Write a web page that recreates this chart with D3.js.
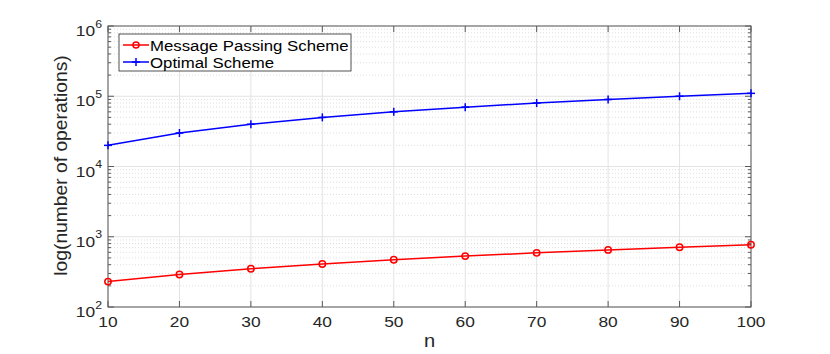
<!DOCTYPE html>
<html><head><meta charset="utf-8">
<script src="https://cdn.jsdelivr.net/npm/d3@7"></script>
<style>body{margin:0;background:#fff;} svg{display:block;font-family:"Liberation Sans",Arial,sans-serif;}</style>
</head><body><svg id="c" width="830" height="354"></svg>
<script>
const nValues = [10,20,30,40,50,60,70,80,90,100];
const messagePassing = [230,290,350,410,470,530,590,650,710,770];
const optimal = [20000,30000,40000,50000,60000,70000,80000,90000,100000,110000];
const xTicks = [10,20,30,40,50,60,70,80,90,100];
const yDecades = [2,3,4,5,6];
const seriesNames = ["Message Passing Scheme","Optimal Scheme"];

const svg = d3.select("#c");
const L=108, R=751, T=26, B=307;
const SX=1.12;
const x = d3.scaleLinear().domain([10,100]).range([L,R]);
const y = d3.scaleLog().domain([100,1e6]).range([B,T]);

// minor grid
const minors=[];
for(let d=2; d<6; d++) for(let k=2;k<=9;k++) minors.push(k*Math.pow(10,d));
const g = svg.append("g");
g.selectAll(".mg").data(minors).enter().append("line")
 .attr("x1",L).attr("x2",R).attr("y1",d=>y(d)).attr("y2",d=>y(d))
 .attr("stroke","#d6d6d6").attr("stroke-width",0.8).attr("stroke-dasharray","1,2");
g.selectAll(".gy").data(yDecades.map(d=>Math.pow(10,d))).enter().append("line")
 .attr("x1",L).attr("x2",R).attr("y1",d=>y(d)).attr("y2",d=>y(d))
 .attr("stroke","#e3e3e3").attr("stroke-width",1);
g.selectAll(".gx").data(xTicks).enter().append("line")
 .attr("x1",d=>x(d)).attr("x2",d=>x(d)).attr("y1",T).attr("y2",B)
 .attr("stroke","#e3e3e3").attr("stroke-width",1);

const ax="#5a5a5a";
svg.append("rect").attr("x",L).attr("y",T).attr("width",R-L).attr("height",B-T)
 .attr("fill","none").attr("stroke",ax).attr("stroke-width",1);
xTicks.forEach(t=>{
  svg.append("line").attr("x1",x(t)).attr("x2",x(t)).attr("y1",B).attr("y2",B-6).attr("stroke",ax);
  svg.append("line").attr("x1",x(t)).attr("x2",x(t)).attr("y1",T).attr("y2",T+6).attr("stroke",ax);
});
yDecades.forEach(d=>{
  const v=Math.pow(10,d);
  svg.append("line").attr("x1",L).attr("x2",L+6).attr("y1",y(v)).attr("y2",y(v)).attr("stroke",ax);
  svg.append("line").attr("x1",R).attr("x2",R-6).attr("y1",y(v)).attr("y2",y(v)).attr("stroke",ax);
});
minors.forEach(v=>{
  svg.append("line").attr("x1",L).attr("x2",L+3).attr("y1",y(v)).attr("y2",y(v)).attr("stroke",ax);
  svg.append("line").attr("x1",R).attr("x2",R-3).attr("y1",y(v)).attr("y2",y(v)).attr("stroke",ax);
});

const lblCol="#262626";
function stext(parent,px,py,anchor,size,col,rot){
  const gg=parent.append("g").attr("transform",`translate(${px},${py})${rot?` rotate(${rot})`:""} scale(${SX},1)`);
  return gg.append("text").attr("x",0).attr("y",0).attr("text-anchor",anchor).attr("font-size",size).attr("fill",col);
}
xTicks.forEach(d=>{ stext(svg,x(d),B+20,"middle",15.5,lblCol).text(d); });
yDecades.forEach(d=>{
  const t=stext(svg,102,y(Math.pow(10,d))+10,"end",15.5,lblCol);
  t.append("tspan").text("10");
  t.append("tspan").attr("dy",-8.5).attr("font-size",11).text(d);
});

stext(svg,(L+R)/2,347,"middle",18,lblCol).text("n");
const yl=svg.append("g").attr("transform",`translate(67,${(T+B)/2-1}) rotate(-90) scale(1.07,1)`);
yl.append("text").attr("text-anchor","middle").attr("font-size",18).attr("fill",lblCol).text("log(number of operations)");

const line = d3.line().x((d,i)=>x(nValues[i])).y(d=>y(d));
svg.append("path").datum(messagePassing).attr("d",line).attr("fill","none").attr("stroke","#ff0000").attr("stroke-width",1.5);
svg.append("path").datum(optimal).attr("d",line).attr("fill","none").attr("stroke","#0000ff").attr("stroke-width",1.5);
svg.selectAll(".mp").data(messagePassing).enter().append("circle")
 .attr("cx",(d,i)=>x(nValues[i])).attr("cy",d=>y(d)).attr("r",3.2)
 .attr("fill","none").attr("stroke","#ff0000").attr("stroke-width",1.5);
const plus = (sel,cx,cy,s)=>{
  sel.append("line").attr("x1",cx-s).attr("x2",cx+s).attr("y1",cy).attr("y2",cy).attr("stroke","#0000ff").attr("stroke-width",1.5);
  sel.append("line").attr("x1",cx).attr("x2",cx).attr("y1",cy-s).attr("y2",cy+s).attr("stroke","#0000ff").attr("stroke-width",1.5);
};
optimal.forEach((v,i)=>plus(svg,x(nValues[i]),y(v),4));

const lg = svg.append("g");
lg.append("rect").attr("x",119).attr("y",34).attr("width",232).attr("height",37)
 .attr("fill","#fff").attr("stroke","#262626").attr("stroke-width",0.8);
lg.append("line").attr("x1",123).attr("x2",149).attr("y1",45).attr("y2",45).attr("stroke","#ff0000").attr("stroke-width",1.5);
lg.append("circle").attr("cx",136).attr("cy",45).attr("r",3).attr("fill","none").attr("stroke","#ff0000").attr("stroke-width",1.5);
stext(lg,150,50.5,"start",15,"#000").text(seriesNames[0]);
lg.append("line").attr("x1",123).attr("x2",149).attr("y1",62).attr("y2",62).attr("stroke","#0000ff").attr("stroke-width",1.5);
plus(lg,136,62,4);
stext(lg,150,67.5,"start",15,"#000").text(seriesNames[1]);
</script></body></html>
